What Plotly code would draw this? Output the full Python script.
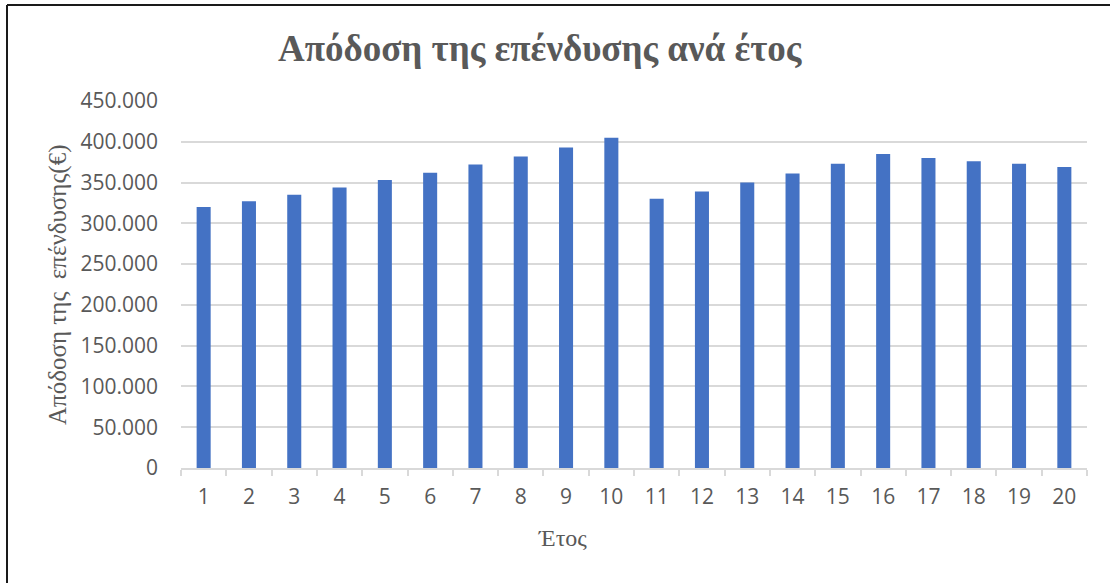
import plotly.graph_objects as go

# Annual return of the investment (€), years 1-20
years = [str(i) for i in range(1, 21)]
returns = [320000, 327000, 335000, 344000, 353000, 362000, 372000, 382000, 393000, 405000,
           330000, 339000, 350000, 361000, 373000, 385000, 380000, 376000, 373000, 369000]
y_ticks = [0, 50000, 100000, 150000, 200000, 250000, 300000, 350000, 400000, 450000]

title_text = "Απόδοση της επένδυσης ανά έτος"
y_title = "Απόδοση της  επένδυσης(€)"
x_title = "Έτος"

W, H = 1110, 583
L, R, T, B = 181, 1087, 101, 468   # plot area in pixels


def px(x):
    return (x - L) / (R - L)


def py(y):
    return (B - y) / (B - T)


fig = go.Figure(go.Bar(
    x=years,
    y=returns,
    marker=dict(color="#4472c4", line=dict(width=0)),
    hoverinfo="x+y",
))

serif = "Liberation Serif, Times New Roman, serif"
sans = "Open Sans, Noto Sans, sans-serif"

fig.update_layout(
    width=W,
    height=H,
    margin=dict(l=L, r=W - R, t=T, b=H - B),
    paper_bgcolor="white",
    plot_bgcolor="white",
    separators=",.",
    bargap=0.69,
    showlegend=False,
    xaxis=dict(
        type="category",
        showline=True,
        linecolor="#d9d9d9",
        linewidth=1.5,
        ticks="outside",
        tickson="boundaries",
        ticklen=6,
        tickcolor="#d9d9d9",
        tickwidth=1.5,
        showgrid=False,
        tickfont=dict(family=sans, size=21, color="#595959"),
        ticklabelstandoff=9,
    ),
    yaxis=dict(
        range=[0, 450000],
        tickvals=y_ticks,
        tickformat=",d",
        showgrid=True,
        gridcolor="#d9d9d9",
        gridwidth=1.5,
        zeroline=False,
        showline=False,
        ticks="",
        tickfont=dict(family=sans, size=21, color="#595959"),
        ticklabelstandoff=22,
    ),
    annotations=[
        dict(text="<b>" + title_text + "</b>", xref="paper", yref="paper",
             x=px(540), y=py(49), xanchor="center", yanchor="middle", showarrow=False,
             font=dict(family=serif, size=37, color="#595959")),
        dict(text=y_title, xref="paper", yref="paper", textangle=-90,
             x=px(58), y=py(285), xanchor="center", yanchor="middle", showarrow=False,
             font=dict(family=serif, size=25, color="#595959")),
        dict(text=x_title, xref="paper", yref="paper",
             x=px(562), y=py(538), xanchor="center", yanchor="middle", showarrow=False,
             font=dict(family=serif, size=24, color="#595959")),
    ],
    shapes=[
        dict(type="line", xref="paper", yref="paper", x0=px(7), y0=py(5), x1=px(1112), y1=py(5),
             line=dict(color="#1a1a1a", width=2)),
        dict(type="line", xref="paper", yref="paper", x0=px(7), y0=py(5), x1=px(7), y1=py(590),
             line=dict(color="#1a1a1a", width=2)),
    ],
)

fig.write_html("out.html")
